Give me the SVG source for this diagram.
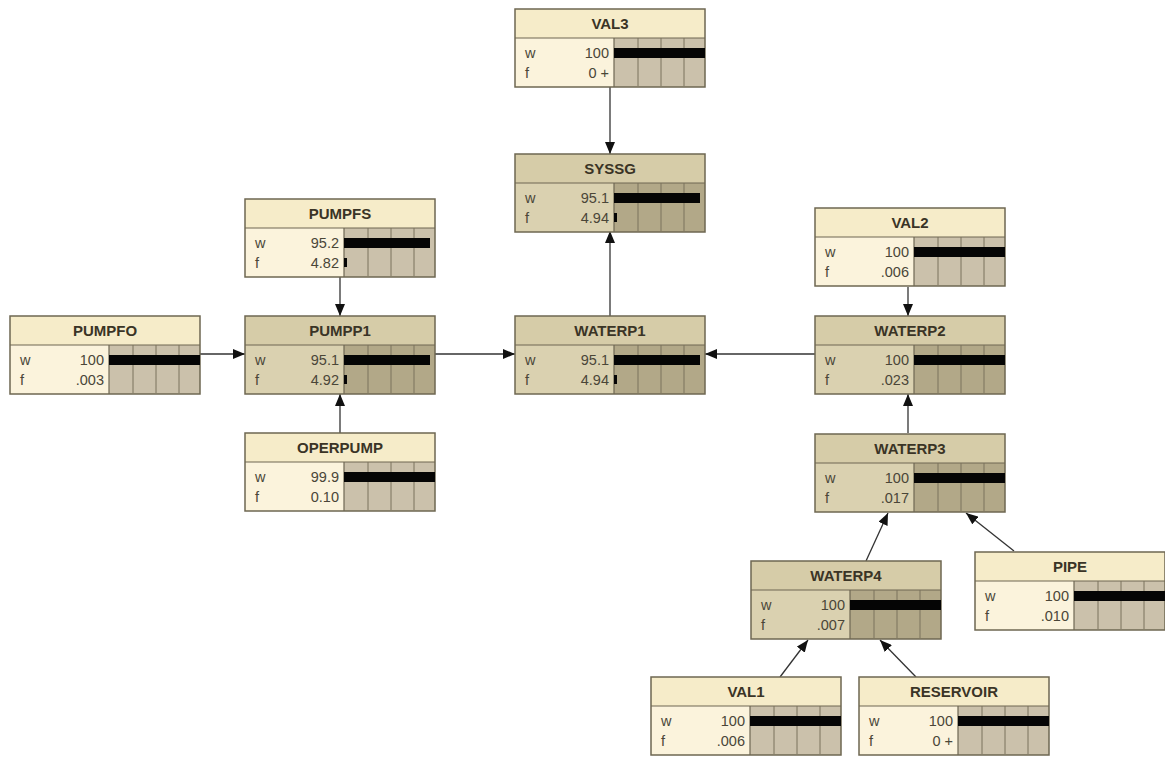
<svg xmlns="http://www.w3.org/2000/svg" width="1165" height="758" viewBox="0 0 1165 758">
<defs>
<marker id="ah" viewBox="0 0 12 10" refX="12" refY="5" markerWidth="12" markerHeight="10" markerUnits="userSpaceOnUse" orient="auto">
<path d="M0,0 L12,5 L0,10 z" fill="#111"/>
</marker>
<style>
.L{--hd:#f6ecc9;--bd:#fbf3dc;--br:#cbc1ab}
.D{--hd:#d6cca8;--bd:#dad1b0;--br:#b2a888}
.hd{fill:var(--hd)}.bd{fill:var(--bd)}.br{fill:var(--br)}
.bg{stroke:#6e6752;stroke-width:1.5}
.ln{stroke:#6e6752;stroke-width:1.2}
.cl{stroke:#7a725c;stroke-width:1}
.bar{fill:#050505}
.tt{font-family:"Liberation Sans",Arial,sans-serif;font-size:15px;font-weight:bold;fill:#3a3426;text-anchor:middle}
.tx{font-family:"Liberation Sans",Arial,sans-serif;font-size:14.5px;fill:#4a4638}
.nv{text-anchor:end}
.cn{stroke:#333;stroke-width:1.3;fill:none;marker-end:url(#ah)}
</style>
<g id="cells">
<rect class="hd" x="0" y="0" width="190" height="78"/>
<rect class="bd" x="0" y="29" width="99" height="49"/>
<rect class="br" x="99" y="29" width="91" height="49"/>
<line class="ln" x1="0" y1="29" x2="190" y2="29"/>
<line class="ln" x1="99" y1="29" x2="99" y2="78"/>
<line class="cl" x1="123" y1="29" x2="123" y2="77"/>
<line class="cl" x1="146" y1="29" x2="146" y2="77"/>
<line class="cl" x1="169" y1="29" x2="169" y2="77"/>
<rect x="0" y="0" width="190" height="78" fill="none" class="bg"/>
</g>
</defs>
<rect width="1165" height="758" fill="#ffffff"/>

<g id="connectors">
<line class="cn" x1="610" y1="87" x2="610" y2="154"/>
<line class="cn" x1="610" y1="316" x2="610" y2="231"/>
<line class="cn" x1="340" y1="277" x2="340" y2="316"/>
<line class="cn" x1="340" y1="433" x2="340" y2="394"/>
<line class="cn" x1="200" y1="354" x2="245" y2="354"/>
<line class="cn" x1="435" y1="354" x2="515" y2="354"/>
<line class="cn" x1="815" y1="354" x2="705" y2="354"/>
<line class="cn" x1="908" y1="287" x2="908" y2="316"/>
<line class="cn" x1="908" y1="433" x2="908" y2="394"/>
<line class="cn" x1="866" y1="561" x2="888" y2="513"/>
<line class="cn" x1="1014" y1="551" x2="966" y2="513"/>
<line class="cn" x1="780" y1="677" x2="808" y2="640"/>
<line class="cn" x1="916" y1="677" x2="880" y2="640"/>
</g>

<g id="VAL3" class="L" transform="translate(515,9)">
<use href="#cells"/>
<rect class="bar" x="99" y="39" width="91" height="10"/>
<text class="tt" x="95" y="20">VAL3</text>
<text class="tx" x="10" y="49">w</text><text class="tx nv" x="94" y="49">100</text>
<text class="tx" x="10" y="69">f</text><text class="tx nv" x="94" y="69">0 +</text>
</g>

<g id="SYSSG" class="D" transform="translate(515,154)">
<use href="#cells"/>
<rect class="bar" x="99" y="39" width="86" height="10"/>
<rect class="bar" x="99" y="59" width="3" height="9"/>
<text class="tt" x="95" y="20">SYSSG</text>
<text class="tx" x="10" y="49">w</text><text class="tx nv" x="94" y="49">95.1</text>
<text class="tx" x="10" y="69">f</text><text class="tx nv" x="94" y="69">4.94</text>
</g>

<g id="PUMPFS" class="L" transform="translate(245,199)">
<use href="#cells"/>
<rect class="bar" x="99" y="39" width="86" height="10"/>
<rect class="bar" x="99" y="59" width="3" height="9"/>
<text class="tt" x="95" y="20">PUMPFS</text>
<text class="tx" x="10" y="49">w</text><text class="tx nv" x="94" y="49">95.2</text>
<text class="tx" x="10" y="69">f</text><text class="tx nv" x="94" y="69">4.82</text>
</g>

<g id="PUMPFO" class="L" transform="translate(10,316)">
<use href="#cells"/>
<rect class="bar" x="99" y="39" width="91" height="10"/>
<text class="tt" x="95" y="20">PUMPFO</text>
<text class="tx" x="10" y="49">w</text><text class="tx nv" x="94" y="49">100</text>
<text class="tx" x="10" y="69">f</text><text class="tx nv" x="94" y="69">.003</text>
</g>

<g id="PUMPP1" class="D" transform="translate(245,316)">
<use href="#cells"/>
<rect class="bar" x="99" y="39" width="86" height="10"/>
<rect class="bar" x="99" y="59" width="3" height="9"/>
<text class="tt" x="95" y="20">PUMPP1</text>
<text class="tx" x="10" y="49">w</text><text class="tx nv" x="94" y="49">95.1</text>
<text class="tx" x="10" y="69">f</text><text class="tx nv" x="94" y="69">4.92</text>
</g>

<g id="OPERPUMP" class="L" transform="translate(245,433)">
<use href="#cells"/>
<rect class="bar" x="99" y="39" width="91" height="10"/>
<text class="tt" x="95" y="20">OPERPUMP</text>
<text class="tx" x="10" y="49">w</text><text class="tx nv" x="94" y="49">99.9</text>
<text class="tx" x="10" y="69">f</text><text class="tx nv" x="94" y="69">0.10</text>
</g>

<g id="WATERP1" class="D" transform="translate(515,316)">
<use href="#cells"/>
<rect class="bar" x="99" y="39" width="86" height="10"/>
<rect class="bar" x="99" y="59" width="3" height="9"/>
<text class="tt" x="95" y="20">WATERP1</text>
<text class="tx" x="10" y="49">w</text><text class="tx nv" x="94" y="49">95.1</text>
<text class="tx" x="10" y="69">f</text><text class="tx nv" x="94" y="69">4.94</text>
</g>

<g id="VAL2" class="L" transform="translate(815,208)">
<use href="#cells"/>
<rect class="bar" x="99" y="39" width="91" height="10"/>
<text class="tt" x="95" y="20">VAL2</text>
<text class="tx" x="10" y="49">w</text><text class="tx nv" x="94" y="49">100</text>
<text class="tx" x="10" y="69">f</text><text class="tx nv" x="94" y="69">.006</text>
</g>

<g id="WATERP2" class="D" transform="translate(815,316)">
<use href="#cells"/>
<rect class="bar" x="99" y="39" width="91" height="10"/>
<text class="tt" x="95" y="20">WATERP2</text>
<text class="tx" x="10" y="49">w</text><text class="tx nv" x="94" y="49">100</text>
<text class="tx" x="10" y="69">f</text><text class="tx nv" x="94" y="69">.023</text>
</g>

<g id="WATERP3" class="D" transform="translate(815,434)">
<use href="#cells"/>
<rect class="bar" x="99" y="39" width="91" height="10"/>
<text class="tt" x="95" y="20">WATERP3</text>
<text class="tx" x="10" y="49">w</text><text class="tx nv" x="94" y="49">100</text>
<text class="tx" x="10" y="69">f</text><text class="tx nv" x="94" y="69">.017</text>
</g>

<g id="WATERP4" class="D" transform="translate(751,561)">
<use href="#cells"/>
<rect class="bar" x="99" y="39" width="91" height="10"/>
<text class="tt" x="95" y="20">WATERP4</text>
<text class="tx" x="10" y="49">w</text><text class="tx nv" x="94" y="49">100</text>
<text class="tx" x="10" y="69">f</text><text class="tx nv" x="94" y="69">.007</text>
</g>

<g id="PIPE" class="L" transform="translate(975,552)">
<use href="#cells"/>
<rect class="bar" x="99" y="39" width="91" height="10"/>
<text class="tt" x="95" y="20">PIPE</text>
<text class="tx" x="10" y="49">w</text><text class="tx nv" x="94" y="49">100</text>
<text class="tx" x="10" y="69">f</text><text class="tx nv" x="94" y="69">.010</text>
</g>

<g id="VAL1" class="L" transform="translate(651,677)">
<use href="#cells"/>
<rect class="bar" x="99" y="39" width="91" height="10"/>
<text class="tt" x="95" y="20">VAL1</text>
<text class="tx" x="10" y="49">w</text><text class="tx nv" x="94" y="49">100</text>
<text class="tx" x="10" y="69">f</text><text class="tx nv" x="94" y="69">.006</text>
</g>

<g id="RESERVOIR" class="L" transform="translate(859,677)">
<use href="#cells"/>
<rect class="bar" x="99" y="39" width="91" height="10"/>
<text class="tt" x="95" y="20">RESERVOIR</text>
<text class="tx" x="10" y="49">w</text><text class="tx nv" x="94" y="49">100</text>
<text class="tx" x="10" y="69">f</text><text class="tx nv" x="94" y="69">0 +</text>
</g>
</svg>
